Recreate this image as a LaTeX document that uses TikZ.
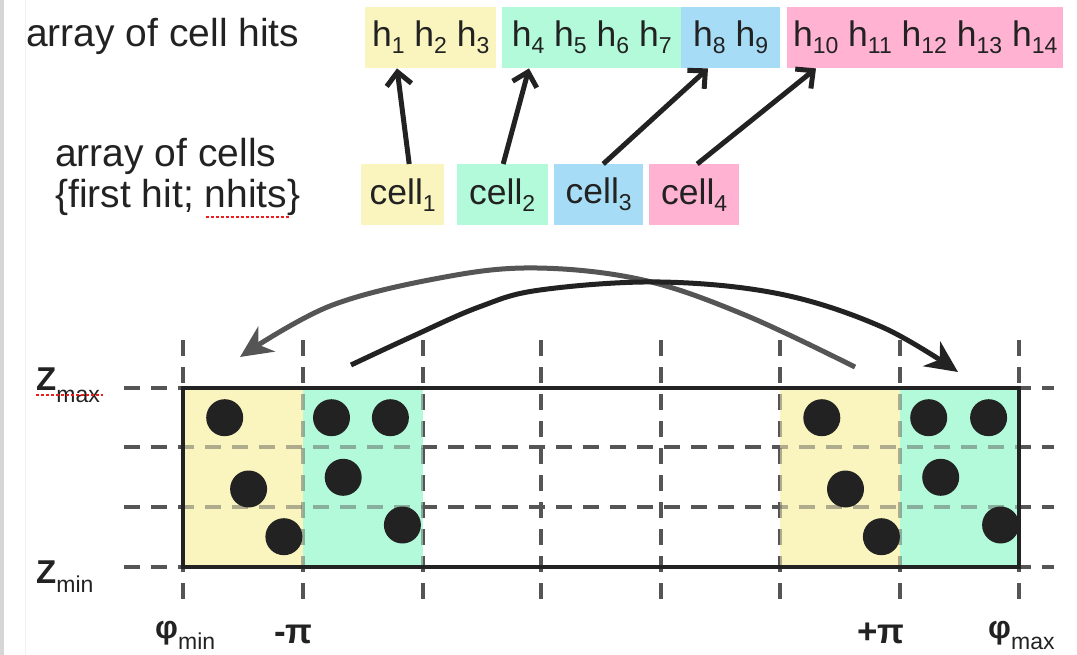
\documentclass[tikz,border=0pt]{standalone}
\usepackage{fontspec}
\setmainfont{Liberation Sans}
\usetikzlibrary{arrows.meta}
\definecolor{cy}{RGB}{250,245,190}
\definecolor{cg}{RGB}{178,250,218}
\definecolor{cb}{RGB}{166,220,245}
\definecolor{cp}{RGB}{255,178,210}
\definecolor{ink}{RGB}{34,34,34}
\definecolor{dashc}{RGB}{85,85,85}
\definecolor{curvegray}{RGB}{85,85,85}
\definecolor{spell}{RGB}{235,30,30}
\newcommand{\lo}[1]{\raisebox{-7pt}{\fontsize{23}{23}\selectfont #1}}
\newcommand{\gridpaths}[1]{%
  \foreach \gx in {183,303,423,541,661,780,900,1019}{\draw[grid,#1] (\gx,340) -- (\gx,606);}
  \foreach \gy in {388,447,507,567}{\draw[grid,#1] (124,\gy) -- (1054,\gy);}
}
\begin{document}
\begin{tikzpicture}[x=1pt,y=-1pt,
  box/.style={fill=#1, minimum height=61pt, inner sep=0pt, anchor=north west, text=ink, font=\fontsize{35.5}{40}\selectfont},
  lbl/.style={anchor=base west, inner sep=0pt, text=ink, font=\fontsize{39}{44}\selectfont},
  link/.style={line width=5pt, draw=ink, -{Straight Barb[length=13pt,width=25pt]}},
  grid/.style={dashc, line width=3.5pt, dash pattern=on 16pt off 11pt},
  dot/.style={circle, fill=ink, minimum size=37pt, inner sep=0pt},
  bigarrow/.style={line width=5pt, -{Stealth[length=32pt,width=30pt,inset=10pt]}},
]
\useasboundingbox (0,0) rectangle (1077,655);
% left page edge
\fill[black!16] (0,0) rectangle (4,655);
\draw[black!6, line width=1pt] (25,0) -- (25,655);

% labels top
\node[lbl] (lhits) at (26,47) {array of cell hits};
\node[lbl] (lcells) at (55,167) {array of cells};
\node[lbl] (lfirst) at (55,208) {\{first hit; nhits\}};
\draw[spell, line width=2pt, dash pattern=on 3pt off 2pt] (206,217) -- (290,217);

% hit array
\node[box=cy, minimum width=131pt] (hy) at (365,7) {h\lo{1} h\lo{2} h\lo{3}};
\node[box=cg, minimum width=179pt] (hg) at (502,7) {h\lo{4} h\lo{5} h\lo{6} h\lo{7}};
\node[box=cb, minimum width=99pt] (hb) at (681,7) {h\lo{8} h\lo{9}};
\node[box=cp, minimum width=276pt] (hp) at (787,7) {h\lo{10} h\lo{11} h\lo{12} h\lo{13} h\lo{14}};

% cells
\node[box=cy, minimum width=83pt] (c1) at (361,164) {cell\lo{1}};
\node[box=cg, minimum width=91pt] (c2) at (456.5,164) {cell\lo{2}};
\node[box=cb, minimum width=89pt] (c3) at (554,164) {cell\lo{3}};
\node[box=cp, minimum width=90pt] (c4) at (649,164) {cell\lo{4}};

\draw[link] ([xshift=6.5pt]c1.north) -- ([xshift=32pt]hy.south west);
\draw[link] ([xshift=1pt]c2.north) -- ([xshift=27pt]hg.south west);
\draw[link] ([xshift=4.5pt]c3.north) -- ([xshift=27pt]hb.south west);
\draw[link] ([xshift=3pt]c4.north) -- ([xshift=29pt]hp.south west);

% grid
\gridpaths{}
\fill[cy] (183,388) rectangle (303,567);
\fill[cy] (780,388) rectangle (900,567);
\fill[cg] (303,388) rectangle (423,567);
\fill[cg] (900,388) rectangle (1019,567);
\begin{scope}
  \clip (183,388) rectangle (423,567) (780,388) rectangle (1019,567);
  \gridpaths{opacity=0.45}
\end{scope}
\draw[ink, line width=4.5pt] (183,388) rectangle (1019,567);

% hits
\foreach \px/\py [count=\i] in {224.7/417.7, 331.5/417.7, 390.4/417.7, 343.2/477.3, 248.6/489, 283.9/536.7, 402.4/525,
  821.8/417.7, 928.7/417.7, 988.6/417.7, 940.7/477.3, 845.5/489, 881.4/536.7, 1000.6/525}
  {\node[dot] (d\i) at (\px,\py) {};}

% wrap-around arrows
\draw[bigarrow, curvegray] plot[smooth, tension=0.6] coordinates {(855,367) (745,315) (643,280) (537,268) (445,277) (330,306) (240,357)};
\draw[bigarrow, ink] plot[smooth, tension=0.6] coordinates {(351,365) (411,337) (479,307) (540,290) (660,282) (780,294) (882,327) (958,372)};

% axis labels
\node[anchor=base west, inner sep=0pt, text=ink] (zmax) at (36,390) {\fontsize{33}{33}\selectfont\bfseries Z\raisebox{-12pt}{\mdseries\fontsize{23}{23}\selectfont max}};
\draw[spell, line width=2pt, dash pattern=on 3pt off 2pt] (36,395) -- (103,395);
\node[anchor=base west, inner sep=0pt, text=ink] (zmin) at (36,583) {\fontsize{33}{33}\selectfont\bfseries Z\raisebox{-9pt}{\mdseries\fontsize{23}{23}\selectfont min}};
\node[anchor=base west, inner sep=0pt, text=ink] (phimin) at (155,638) {\fontsize{32}{32}\selectfont\bfseries φ\raisebox{-11pt}{\mdseries\fontsize{23}{23}\selectfont min}};
\node[anchor=base west, inner sep=0pt, text=ink] (mpi) at (274,643) {\fontsize{35}{35}\selectfont\bfseries -π};
\node[anchor=base west, inner sep=0pt, text=ink] (ppi) at (857,643) {\fontsize{35}{35}\selectfont\bfseries +π};
\node[anchor=base west, inner sep=0pt, text=ink] (phimax) at (988,638) {\fontsize{32}{32}\selectfont\bfseries φ\raisebox{-11pt}{\mdseries\fontsize{23}{23}\selectfont max}};
\end{tikzpicture}
\end{document}
